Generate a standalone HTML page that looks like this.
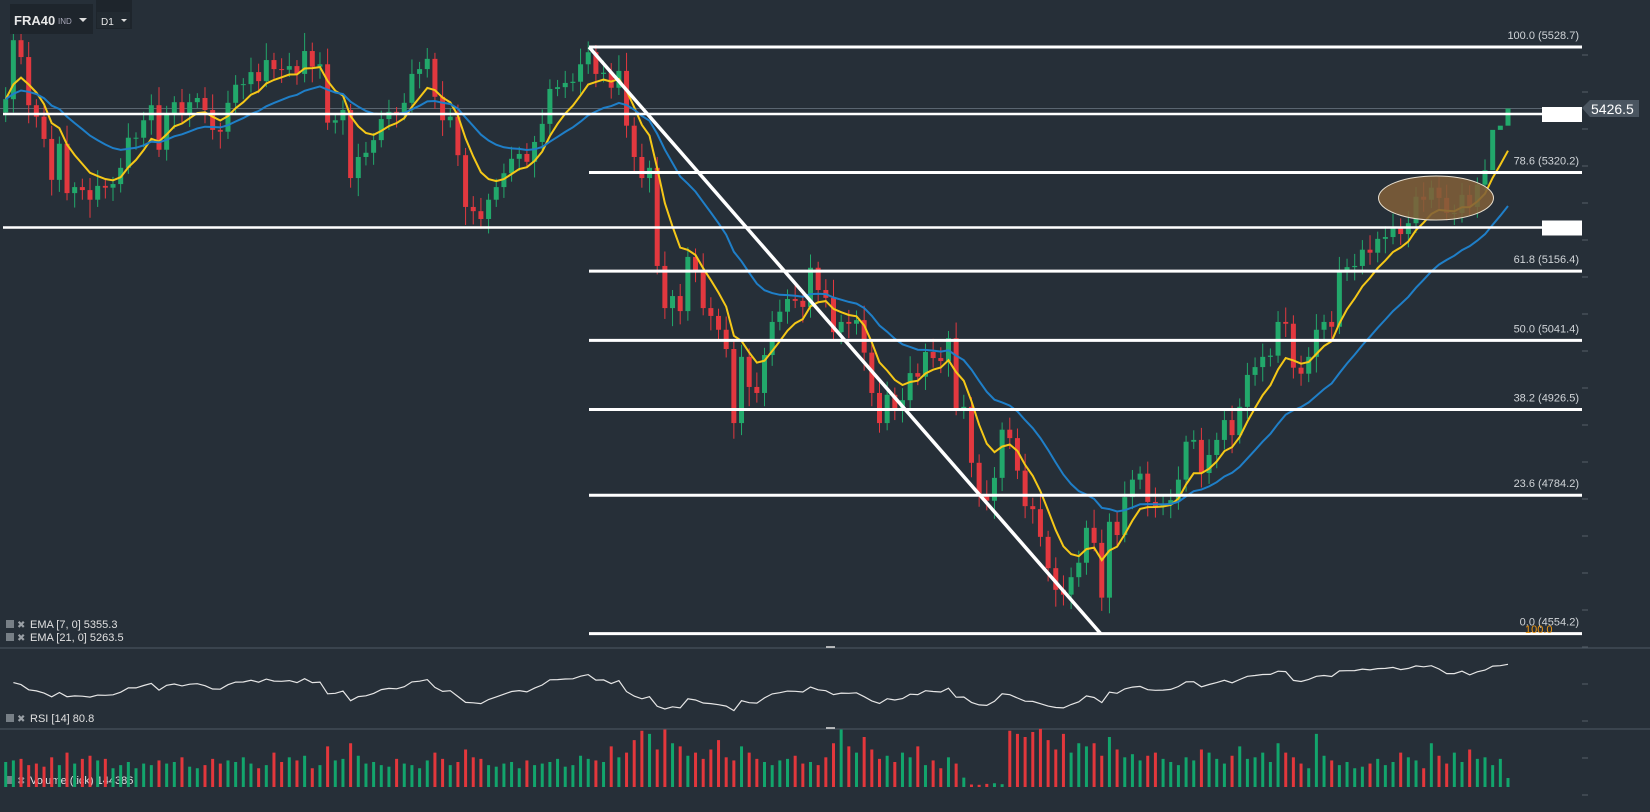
<!DOCTYPE html>
<html><head><meta charset="utf-8"><style>
html,body{margin:0;padding:0;background:#262f38;overflow:hidden}
svg{display:block;font-family:"Liberation Sans",sans-serif}
</style></head><body>
<svg id="c" width="1650" height="812" viewBox="0 0 1650 812">
<rect x="0" y="0" width="1650" height="812" fill="#262f38"/>
<g id="main"></g>
<g id="rsi"></g>
<g id="vol"></g>
<g id="ui">
 <rect x="10" y="4" width="83" height="30" fill="#1e252c"/>
 <text x="14" y="25" fill="#e8e8e8" font-size="13" font-weight="bold">FRA40</text>
 <text x="58" y="24" fill="#aab" font-size="8">IND</text>
 <path d="M79 18 L87 18 L83 22 Z" fill="#ddd"/>
 <rect x="96" y="0" width="36" height="29" fill="#1e252c"/>
 <rect x="97" y="12" width="33" height="16" fill="#222a31"/>
 <text x="101" y="25" fill="#e8e8e8" font-size="10">D1</text>
 <path d="M121 19 L127 19 L124 22 Z" fill="#ddd"/>
</g>
</svg>
<script>
const closes=[5442,5540,5512,5432,5413,5376,5308,5368,5286,5296,
5291,5275,5298,5295,5301,5328,5378,5378,5407,5432,
5358,5419,5437,5416,5437,5444,5424,5391,5388,5436,
5466,5467,5487,5472,5507,5492,5491,5497,5484,5522,
5496,5500,5403,5407,5424,5311,5346,5353,5374,5409,
5421,5417,5436,5484,5492,5509,5446,5407,5413,5349,
5263,5256,5243,5275,5296,5319,5343,5351,5338,5371,
5401,5459,5462,5469,5471,5500,5520,
5484,5486,5461,5489,5398,5346,5311,5328,5165,5095,
5115,5090,5180,5158,5095,5082,5059,5027,4904,5014,
4964,4954,5017,5072,5089,5110,5107,5097,5162,5125,
5112,5055,5072,5069,5075,5021,4954,4904,4951,4929,
4942,4987,4981,5022,5012,5007,5045,4929,4931,4838,
4785,4775,4813,4893,4879,4825,4766,4761,4715,4663,
4627,4619,4648,4672,4730,4705,4614,4740,4718,4781,
4810,4820,4773,4765,4768,4776,4810,4873,4876,4821,
4851,4876,4909,4884,4931,4984,4997,5014,5016,5072,
5069,4996,4986,5014,5059,5072,5064,5158,5163,5165,
5192,5187,5210,5213,5230,5218,5236,5280,5275,5295,
5278,5253,5253,5283,5263,5300,5324,5391,5398,5426.5];
const wickHi=[20,30,15,25,10,18,22,12,30,8,14,20,26,10,12,16,24,9,14,18,
30,12,10,22,14,8,18,26,12,20,16,10,24,14,28,12,18,22,10,30,
14,20,26,12,16,10,22,18,12,14,20,8,16,24,12,18,10,26,14,20,
12,18,22,10,14,16,20,12,18,10,24,16,12,20,14,26,18,
12,20,16,26,30,14,22,12,18,24,10,20,16,14,28,18,12,22,16,20,
14,24,12,18,20,16,26,14,22,10,18,30,12,20,16,24,14,18,22,12,
20,28,16,14,22,18,12,26,20,16,14,24,18,12,20,16,28,14,22,10,
18,24,16,20,12,30,22,14,18,26,16,12,20,24,14,18,22,10,16,20,
26,12,18,24,14,20,16,22,12,18,24,14,20,16,26,12,18,22,14,20,
16,24,12,18,22,14,20,16,24,12,18,22,14,20,16,12,18];
const wickLo=[16,22,12,30,18,14,26,20,12,24,16,30,12,18,22,14,10,20,16,24,
12,18,26,14,20,10,22,16,28,12,18,24,14,20,10,16,22,12,18,14,
26,20,12,18,24,16,30,14,20,12,18,22,10,16,24,14,20,26,12,18,
30,22,16,24,12,18,14,20,10,26,16,22,12,18,14,20,16,
22,14,18,12,20,26,16,24,14,18,30,22,16,20,12,24,18,14,26,20,
32,16,22,18,14,20,12,26,18,22,16,14,20,24,18,30,22,16,12,20,
24,18,14,22,16,20,26,12,18,24,20,16,30,22,18,14,20,24,16,22,
28,18,24,16,20,14,22,26,18,12,20,16,24,18,14,22,16,20,12,24,
18,22,16,30,14,20,18,24,16,12,22,18,20,14,26,16,20,12,18,22,
14,20,16,24,12,18,22,16,20,14,18,12,20,16,14,18,10];
const volumes=[400,425,450,350,375,325,475,350,550,375,450,500,425,450,300,350,400,300,375,350,
425,375,400,475,325,300,350,450,375,425,400,475,375,300,350,550,400,475,425,500,
300,350,650,425,450,700,500,375,400,350,325,450,375,350,300,425,550,450,350,400,
600,475,450,350,325,375,400,300,425,350,375,400,450,325,350,500,450,425,400,650,
475,550,750,900,850,600,920,700,650,500,550,450,600,750,475,425,650,550,450,400,
350,425,450,500,375,400,350,475,700,920,650,550,800,600,450,500,400,550,475,650,
350,425,300,475,375,150,40,35,50,60,45,900,850,800,880,930,750,600,850,550,
700,650,700,500,800,600,475,525,425,500,550,450,400,350,475,425,600,550,450,375,
500,650,450,475,550,400,700,550,475,375,300,850,500,425,350,400,300,325,375,450,
350,400,550,475,425,300,700,500,375,550,400,600,450,475,350,450,144];
const emaPeriods=[7,21];
const fibLevels=[100,78.6,61.8,50,38.2,23.6,0];
const fibHigh=5528.7, fibLow=4554.2;
const NS='http://www.w3.org/2000/svg';
function mk(t,a,p){const e=document.createElementNS(NS,t);for(const k in a)e.setAttribute(k,a[k]);p.appendChild(e);return e;}
const GREEN='#22a86b',RED='#e2383f';
const N=closes.length;
const xS=i=>5.7+i*((1508-5.7)/(N-1));
const yP=p=>47+(fibHigh-p)*0.602;
const yR=r=>648+(100-r)*0.81;
const yV=v=>787-v/16;
const main=document.getElementById('main');
const defs=mk('defs',{},main);
const cp=mk('clipPath',{id:'cp'},defs);mk('rect',{x:0,y:0,width:1582,height:646},cp);
for(let y=55;y<800;y+=37){const t=mk('line',{x1:1582,x2:1588,y1:y,y2:y,stroke:'#555f69','stroke-width':1},main);

}
const g=mk('g',{'clip-path':'url(#cp)'},main);


let e=mk('line',{x1:0,x2:1582,y1:108.5,y2:108.5,stroke:'#5a6570','stroke-width':1},g);


const opens=closes.map((c,i)=>i===0?5420:closes[i-1]);
for(let i=0;i<N;i++){
 const o=opens[i],c=closes[i],up=c>=o,col=up?GREEN:RED,x=xS(i);
 const hi=Math.max(o,c)+wickHi[i],lo=Math.min(o,c)-wickLo[i];
 const w=mk('line',{x1:x,x2:x,y1:yP(hi),y2:yP(lo),stroke:col,'stroke-width':1},g);
 
 
 const yt=yP(Math.max(o,c)),yb=yP(Math.min(o,c));
 const b=mk('rect',{x:x-2.5,y:yt,width:5,height:Math.max(1,yb-yt),fill:col},g);
 
 
}
function ema(p){const k=2/(p+1);let r=[],v=closes[0];closes.forEach((c,i)=>{v=i?c*k+v*(1-k):c;r.push(v);});return r;}
const emaColors=['#f5c818','#1f7fc8'];
emaPeriods.forEach((p,j)=>{const s=ema(p);
 const l=mk('polyline',{points:s.map((v,i)=>xS(i).toFixed(1)+','+yP(v).toFixed(1)).join(' '),fill:'none',stroke:emaColors[j],'stroke-width':2},g);
 
 });
[114,227.5].forEach((y,j)=>{
 let l=mk('line',{x1:3,x2:1542,y1:y,y2:y,stroke:'#fff','stroke-width':2.5},main);
 
 
 let r=mk('rect',{x:1542,y:y-7,width:40,height:15,fill:'#fff'},main);
 
 });
fibLevels.forEach(lv=>{const p=fibLow+(fibHigh-fibLow)*lv/100,y=yP(p);
 const l=mk('line',{x1:589,x2:1582,y1:y,y2:y,stroke:'#fff','stroke-width':3},main);
 
 
 const t=mk('text',{x:1579,y:y-8,'text-anchor':'end',fill:'#d0d4d8','font-size':11},main);
 t.textContent=lv.toFixed(1)+' ('+p.toFixed(1)+')';
 
 });
e=mk('text',{x:1525,y:633,'text-anchor':'start',fill:'#f0960e','font-size':11},main);
e.textContent='100.0';


e=mk('line',{x1:589,y1:47,x2:1101,y2:634,stroke:'#fff','stroke-width':3.5},main);


e=mk('ellipse',{cx:1436,cy:198,rx:57.5,ry:22,fill:'rgba(128,94,56,0.88)',stroke:'#e8e0d0','stroke-width':1},main);


e=mk('path',{d:'M1582 108 L1590 100 L1639 100 L1639 117 L1590 117 Z',fill:'#4a5560'},main);


e=mk('text',{x:1591,y:114,fill:'#fff','font-size':14},main);
e.textContent='5426.5';


function legend(y,txt,name){const gg=mk('g',{},main);
 
 
 mk('rect',{x:6,y:y-8,width:8,height:8,fill:'#777f86'},gg);
 const x=mk('text',{x:17,y:y,fill:'#9aa0a6','font-size':10},gg);x.textContent='✖';
 const t=mk('text',{x:30,y:y,fill:'#e0e0e0','font-size':11},gg);t.textContent=txt;}
legend(628,'EMA [7, 0] 5355.3','ema7-legend');
legend(641,'EMA [21, 0] 5263.5','ema21-legend');
legend(722,'RSI [14] 80.8','rsi-legend');
[648,729].forEach(y=>{let l=mk('line',{x1:0,x2:1650,y1:y,y2:y,stroke:'#46515c','stroke-width':1.2},main);
 
 
 l=mk('line',{x1:826,x2:835,y1:y-1,y2:y-1,stroke:'#ddd','stroke-width':1.5},main);
 
 });
const rsiG=document.getElementById('rsi');
let ag=22,al=22,rsi=[];
for(let i=1;i<N;i++){const d=closes[i]-closes[i-1],gn=Math.max(d,0),ls=Math.max(-d,0);
 ag=(ag*13+gn)/14;al=(al*13+ls)/14;
 rsi.push([i,al===0?100:100-100/(1+ag/al)]);}
e=mk('polyline',{points:rsi.map(([i,r])=>xS(i).toFixed(1)+','+yR(r).toFixed(1)).join(' '),fill:'none',stroke:'#e6e6e6','stroke-width':1.2},rsiG);


const vG=document.getElementById('vol');
for(let i=0;i<N;i++){const up=closes[i]>=opens[i];
 const r=mk('rect',{x:xS(i)-1.5,y:yV(volumes[i]),width:3,height:787-yV(volumes[i]),fill:up?'#12a56c':'#e3373c'},vG);
 
 }
legend(784,'Volume  (tick)  144386','volume-legend');
</script>
</body></html>
